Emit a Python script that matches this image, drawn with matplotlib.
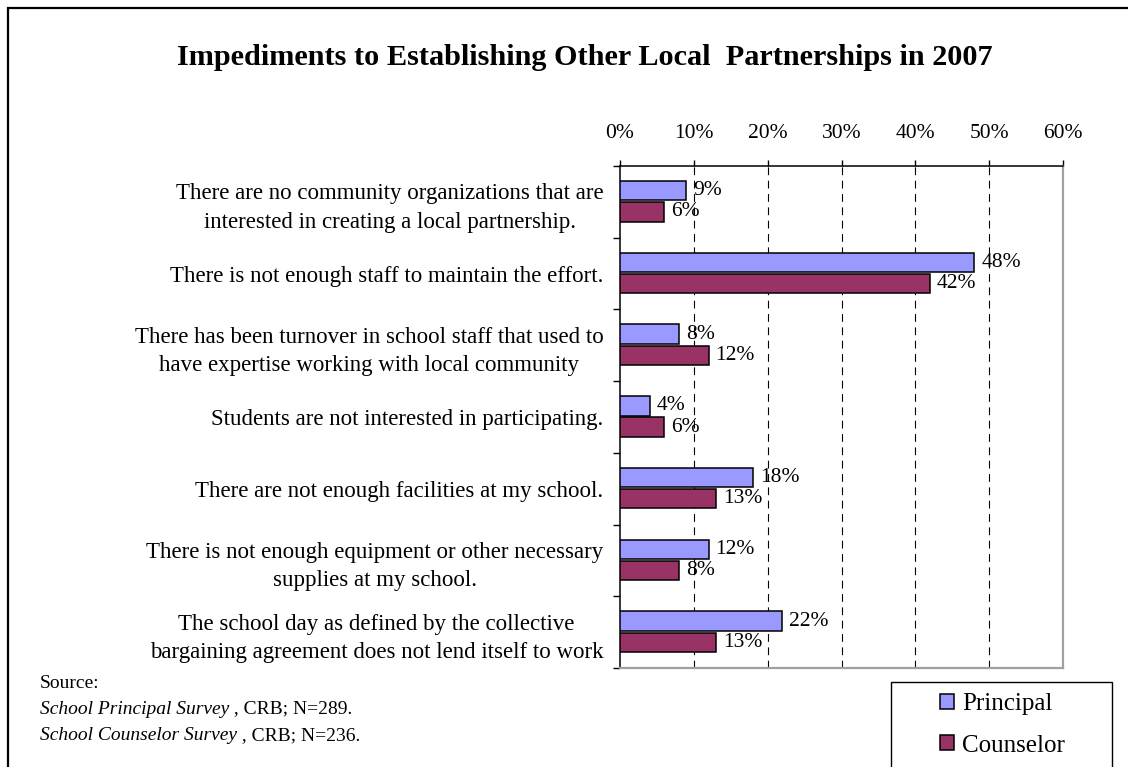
import numpy as np
import matplotlib
matplotlib.use("Agg")
import matplotlib.pyplot as plt
from matplotlib.patches import Rectangle

# ---- data -------------------------------------------------------------
categories = [
    "There are no community organizations that are\ninterested in creating a local partnership.",
    "There is not enough staff to maintain the effort.",
    "There has been turnover in school staff that used to\nhave expertise working with local community",
    "Students are not interested in participating.",
    "There are not enough facilities at my school.",
    "There is not enough equipment or other necessary\nsupplies at my school.",
    "The school day as defined by the collective\nbargaining agreement does not lend itself to work",
]
principal = [9, 48, 8, 4, 18, 12, 22]
counselor = [6, 42, 12, 6, 13, 8, 13]
series_names = ["Principal", "Counselor"]
x_ticks = [0, 10, 20, 30, 40, 50, 60]
x_tick_labels = ["0%", "10%", "20%", "30%", "40%", "50%", "60%"]
title = "Impediments to Establishing Other Local  Partnerships in 2007"
source_head = "Source:"
source_italic = ["School Principal Survey", "School Counselor Survey"]
source_rest = [" , CRB; N=289.", " , CRB; N=236."]

# ---- figure setup -----------------------------------------------------
plt.rcParams["font.family"] = ["Liberation Serif", "DejaVu Serif"]
W, H = 1128, 767
fig = plt.figure(figsize=(W / 100, H / 100), dpi=100, facecolor="white")


def fx(px):
    return px / W


def fy(py):
    return 1 - py / H


ax = fig.add_axes([fx(620), fy(668), fx(1063) - fx(620), fy(166) - fy(668)])

y = np.arange(len(categories))
bar_h = 0.27
b1 = ax.barh(y - 0.155, principal, height=bar_h, color="#9999FF",
             edgecolor="black", linewidth=1.1, zorder=3)
b2 = ax.barh(y + 0.14, counselor, height=bar_h, color="#993366",
             edgecolor="black", linewidth=1.1, zorder=3)

ax.set_xlim(x_ticks[0], x_ticks[-1])
ax.set_ylim(len(categories) - 0.5, -0.5)

# dashed vertical gridlines at the interior ticks
for xv in x_ticks[1:-1]:
    ax.axvline(xv, color="black", linewidth=0.8, linestyle=(0, (7, 5)), zorder=1)

# x axis on top
ax.xaxis.tick_top()
ax.set_xticks(x_ticks, labels=x_tick_labels)
ax.tick_params(axis="x", direction="out", length=4.5, width=1.0,
               pad=12, labelsize=15.5)

# y axis: ticks at category boundaries, labels centred on categories
ax.set_yticks(np.arange(-0.5, len(categories)), labels=[""] * (len(categories) + 1))
ax.set_yticks(y, labels=categories, minor=True)
ax.tick_params(axis="y", which="major", direction="out", length=5, width=1.0)
ax.tick_params(axis="y", which="minor", length=0, pad=12, labelsize=16.5)
for t in ax.get_yticklabels(minor=True):
    t.set_multialignment("center")
    t.set_linespacing(1.47)

for side in ("top", "left"):
    ax.spines[side].set_color("black")
    ax.spines[side].set_linewidth(1.1)
for side in ("right", "bottom"):
    ax.spines[side].set_color("#A0A0A0")
    ax.spines[side].set_linewidth(1.6)

# value labels
ax.bar_label(b1, labels=[f"{v}%" for v in principal], padding=5, fontsize=15.5)
ax.bar_label(b2, labels=[f"{v}%" for v in counselor], padding=5, fontsize=15.5)

# title
fig.text(fx(585), fy(65), title, ha="center", va="baseline",
         fontsize=21.8, fontweight="bold")

# source note
fig.text(fx(40), fy(684), source_head, ha="left", va="center", fontsize=14)
for i, (it, rest) in enumerate(zip(source_italic, source_rest)):
    t = fig.text(fx(40), fy(709 + 26.5 * i), it, ha="left", va="center",
                 fontsize=14, fontstyle="italic")
    fig.add_artist(plt.Annotation(rest, xy=(1, 0), xycoords=t, ha="left",
                                  va="bottom", fontsize=14,
                                  annotation_clip=False))

# legend
fig.legend(handles=[b1, b2], labels=series_names, loc="upper left",
           bbox_to_anchor=(fx(940), fy(693)), frameon=False, fontsize=18,
           handlelength=0.56, handleheight=0.56, handletextpad=0.32,
           labelspacing=0.78, borderpad=0, borderaxespad=0)
fig.add_artist(Rectangle((fx(891), fy(790)), fx(1112) - fx(891), fy(682) - fy(790),
                         transform=fig.transFigure, fill=False,
                         edgecolor="black", linewidth=1.0))

# outer frame
fig.add_artist(Rectangle((fx(8), -0.2), 1.5, fy(8) + 0.2,
                         transform=fig.transFigure, fill=False,
                         edgecolor="black", linewidth=1.6))

fig.savefig("out.png", dpi=100, facecolor="white")
